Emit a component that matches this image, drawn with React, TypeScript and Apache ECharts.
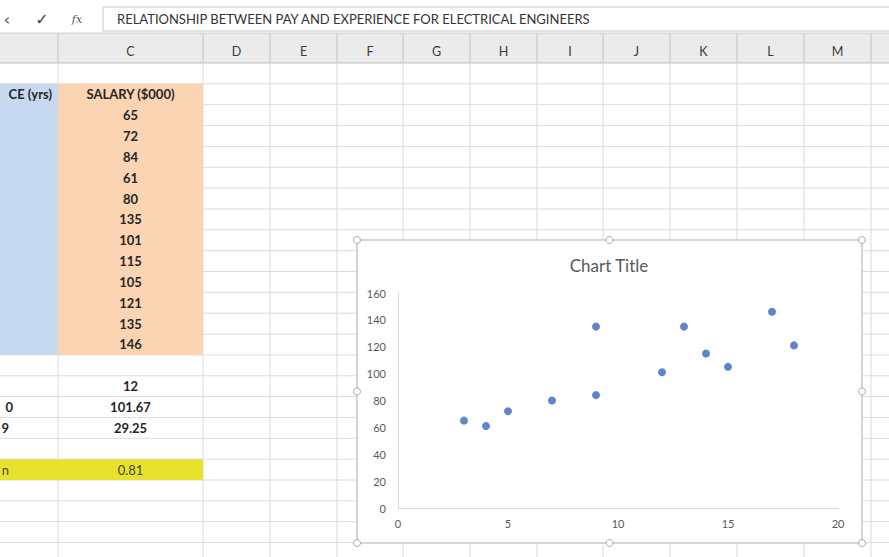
import React, { useEffect, useRef } from "react";
import * as echarts from "echarts";

// ---- data ----
const formulaText = "RELATIONSHIP BETWEEN PAY AND EXPERIENCE FOR ELECTRICAL ENGINEERS";
const columnLetters = ["C", "D", "E", "F", "G", "H", "I", "J", "K", "L", "M"];
const experienceHeaderVisible = "CE (yrs)";
const salaryHeader = "SALARY ($000)";
const experience = [3, 5, 9, 4, 7, 9, 12, 14, 15, 18, 13, 17];
const salary = [65, 72, 84, 61, 80, 135, 101, 115, 105, 121, 135, 146];
const salaryStats = ["12", "101.67", "29.25"];
const experienceStatsVisible = ["0", "9"];
const correlationLabelVisible = "n";
const correlationValue = "0.81";
const chartTitle = "Chart Title";

const FONT = "Lato, 'Open Sans', sans-serif";

export default function App() {
  const ref = useRef<HTMLDivElement>(null);

  useEffect(() => {
    document.body.style.margin = "0";
    const chart = echarts.init(ref.current!, null, { renderer: "svg" });

    const colEdges = [0, 58, 203, 270, 337, 403, 470, 537, 603, 670, 737, 804, 871, 889];
    const rowH = 20.85;
    const rowTop = (k: number) => 63 + rowH * k;
    const rowMid = (k: number) => rowTop(k) + rowH / 2;
    const cx = 130.5;

    const g: any[] = [];
    // background
    g.push({ type: "rect", shape: { x: 0, y: 0, width: 889, height: 557 }, style: { fill: "#ffffff" }, z: 0 });
    // formula bar
    g.push({ type: "rect", shape: { x: 103, y: 7, width: 800, height: 24 }, style: { fill: "#fff", stroke: "#c9c9c9", lineWidth: 1 }, z: 0 });
    g.push({ type: "text", x: 117, y: 19, style: { text: formulaText, font: `13px ${FONT}`, fill: "#333", textVerticalAlign: "middle" }, z: 1 });
    g.push({ type: "text", x: 7, y: 19, style: { text: "‹", font: `16px 'DejaVu Sans'`, fill: "#555", textAlign: "center", textVerticalAlign: "middle" }, z: 1 });
    g.push({ type: "text", x: 42, y: 19, style: { text: "✓", font: `16px 'DejaVu Sans'`, fill: "#444", textAlign: "center", textVerticalAlign: "middle" }, z: 1 });
    g.push({ type: "text", x: 77, y: 19, style: { text: "fx", font: `italic 11px 'DejaVu Serif'`, fill: "#555", textAlign: "center", textVerticalAlign: "middle" }, z: 1 });
    // header row
    g.push({ type: "rect", shape: { x: 0, y: 33, width: 889, height: 30 }, style: { fill: "#ebebeb" }, z: 0 });
    g.push({ type: "line", shape: { x1: 0, y1: 33, x2: 889, y2: 33 }, style: { stroke: "#d4d4d4", lineWidth: 1 }, z: 1 });
    g.push({ type: "line", shape: { x1: 0, y1: 63, x2: 889, y2: 63 }, style: { stroke: "#bdbdbd", lineWidth: 1 }, z: 1 });
    for (let i = 1; i < colEdges.length - 1; i++) {
      g.push({ type: "line", shape: { x1: colEdges[i], y1: 33, x2: colEdges[i], y2: 63 }, style: { stroke: "#c4c4c4", lineWidth: 1 }, z: 1 });
    }
    columnLetters.forEach((c, i) => {
      const x = (colEdges[i + 1] + colEdges[i + 2]) / 2;
      g.push({ type: "text", x, y: 51, style: { text: c, font: `12.5px ${FONT}`, fill: "#3a3a3a", textAlign: "center", textVerticalAlign: "middle" }, z: 2 });
    });
    // grid lines
    for (let k = 1; k <= 24; k++) {
      g.push({ type: "line", shape: { x1: 0, y1: rowTop(k), x2: 889, y2: rowTop(k) }, style: { stroke: "#dcdcdc", lineWidth: 1 }, z: 1 });
    }
    for (let i = 1; i < colEdges.length - 1; i++) {
      g.push({ type: "line", shape: { x1: colEdges[i], y1: 63, x2: colEdges[i], y2: 557 }, style: { stroke: "#dcdcdc", lineWidth: 1 }, z: 1 });
    }
    // fills
    g.push({ type: "rect", shape: { x: 0, y: rowTop(1), width: 58, height: rowTop(14) - rowTop(1) }, style: { fill: "#c6d9f0" }, z: 2 });
    g.push({ type: "rect", shape: { x: 58, y: rowTop(1), width: 145, height: rowTop(14) - rowTop(1) }, style: { fill: "#fbd4b4" }, z: 2 });
    g.push({ type: "rect", shape: { x: 0, y: rowTop(19), width: 203, height: rowH }, style: { fill: "#e8e22c" }, z: 2 });
    // texts
    const cellText = (text: string, x: number, k: number, align: string, bold = true, color = "#262626") =>
      g.push({ type: "text", x, y: rowMid(k), style: { text, font: `${bold ? "bold " : ""}13px ${FONT}`, fill: color, textAlign: align, textVerticalAlign: "middle" }, z: 3 });
    cellText(experienceHeaderVisible, 52, 1, "right");
    cellText(salaryHeader, cx, 1, "center");
    salary.forEach((v, i) => cellText(String(v), cx, 2 + i, "center"));
    salaryStats.forEach((v, i) => cellText(v, cx, 15 + i, "center"));
    cellText(experienceStatsVisible[0], 13, 16, "right");
    cellText(experienceStatsVisible[1], 9, 17, "right");
    cellText(correlationLabelVisible, 9, 19, "right", false, "#444");
    cellText(correlationValue, cx, 19, "center", false, "#444");
    // chart box
    const bx = 357, by = 240, bw = 505, bh = 303;
    g.push({ type: "rect", shape: { x: bx, y: by, width: bw, height: bh }, style: { fill: "#ffffff", stroke: "#c8c8c8", lineWidth: 1.5 }, z: 4 });
    const handles = [
      [bx, by], [bx + bw / 2, by], [bx + bw, by],
      [bx, by + bh / 2], [bx + bw, by + bh / 2],
      [bx, by + bh], [bx + bw / 2, by + bh], [bx + bw, by + bh],
    ];
    handles.forEach(([x, y]) =>
      g.push({ type: "circle", shape: { cx: x, cy: y, r: 3.5 }, style: { fill: "#ffffff", stroke: "#a8a8a8", lineWidth: 1 }, z: 5 })
    );
    g.push({ type: "text", x: 609, y: 265, style: { text: chartTitle, font: `17px ${FONT}`, fill: "#595959", textAlign: "center", textVerticalAlign: "middle" }, z: 6 });

    const points = experience.map((x, i) => [x, salary[i]]);

    chart.setOption({
      animation: false,
      graphic: { elements: g },
      grid: { left: 398, right: 51, top: 293, bottom: 49, containLabel: false },
      xAxis: {
        type: "value", min: 0, max: 20, interval: 5, z: 10,
        axisLine: { show: true, lineStyle: { color: "#d9d9d9", width: 1 } },
        axisTick: { show: false }, splitLine: { show: false },
        axisLabel: { color: "#595959", fontSize: 11, fontFamily: FONT, margin: 10 },
      },
      yAxis: {
        type: "value", min: 0, max: 160, interval: 20, z: 10,
        axisLine: { show: true, lineStyle: { color: "#d9d9d9", width: 1 } },
        axisTick: { show: false }, splitLine: { show: false },
        axisLabel: { color: "#595959", fontSize: 11, fontFamily: FONT, margin: 12 },
      },
      series: [
        {
          type: "scatter", data: points, symbol: "circle", symbolSize: 8, z: 20,
          itemStyle: { color: "#3468bb" },
        },
      ],
    });
    return () => chart.dispose();
  }, []);

  return <div ref={ref} style={{ width: 889, height: 557 }} />;
}
